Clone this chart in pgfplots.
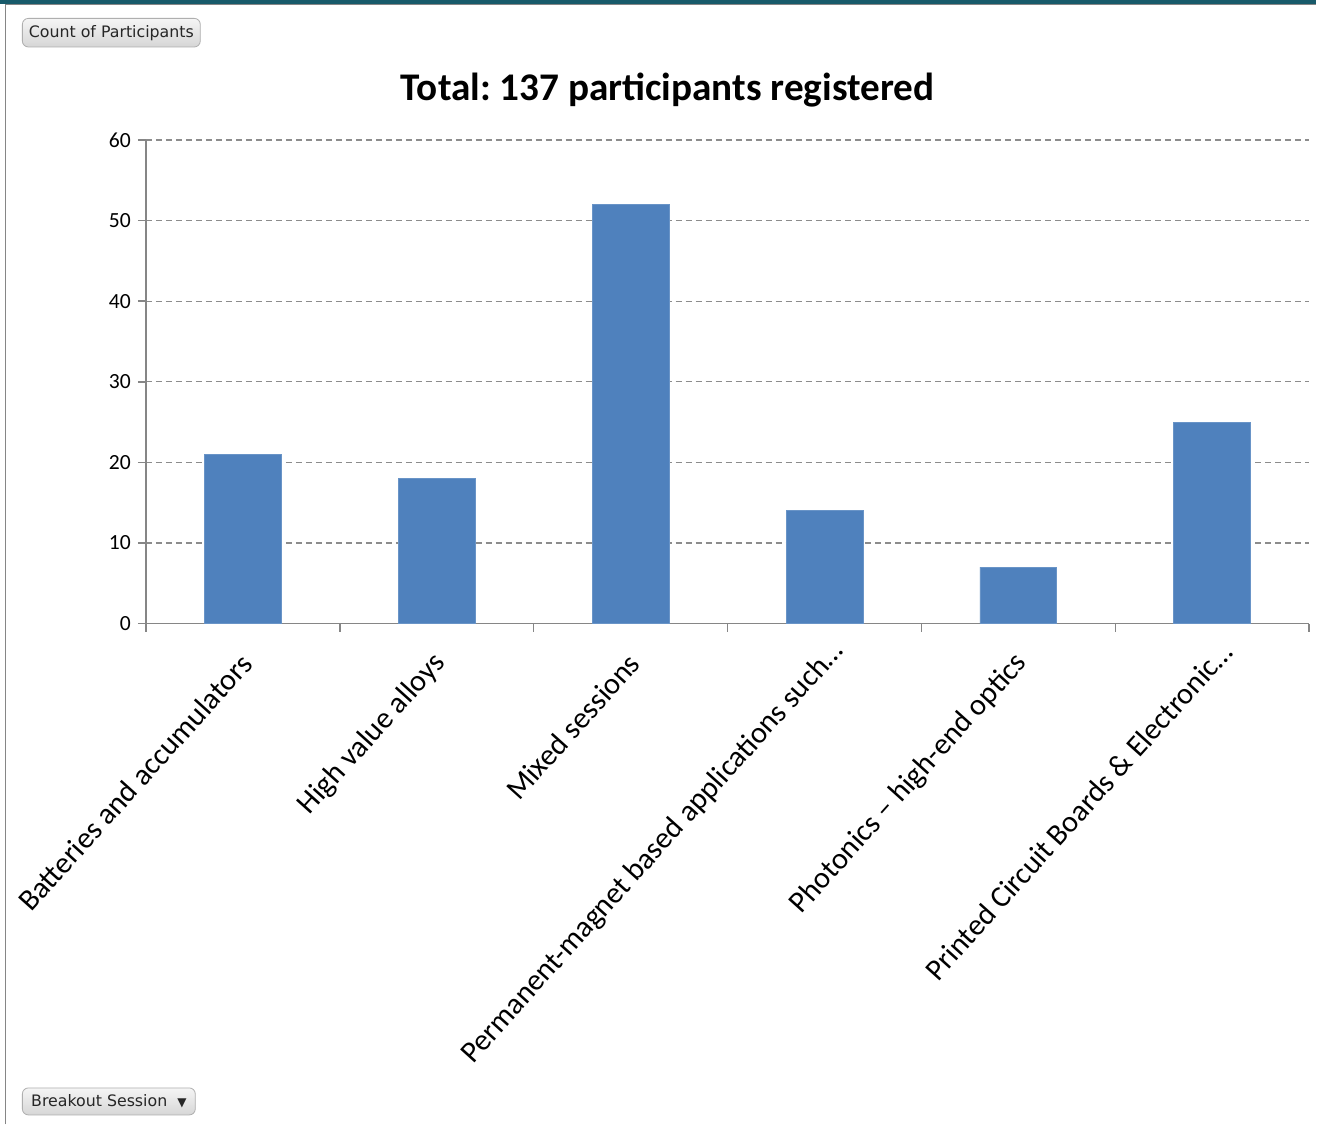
\documentclass[border=0pt]{standalone}
\usepackage{fontspec}
\setmainfont{Carlito}
\newfontfamily\tahoma{DejaVu Sans}
\usepackage{pgfplots}
\pgfplotsset{compat=1.18}
\frenchspacing
\definecolor{barblue}{RGB}{79,129,189}
\definecolor{axgray}{RGB}{134,134,134}
\definecolor{gridgray}{RGB}{140,140,140}
\definecolor{topteal}{RGB}{24,90,106}
\definecolor{btnborder}{RGB}{175,175,175}
\begin{document}
\begin{tikzpicture}[x=1pt,y=1pt]
\fill[white] (0,0) rectangle (658.5,562.5);
\fill[topteal] (0,560.5) rectangle (658.5,562.5);
\draw[axgray,line width=0.8pt] (2.8,0) -- (2.8,560.2) -- (658.5,560.2);
% buttons
\node[draw=btnborder, rounded corners=3pt, top color=gray!8, bottom color=gray!32, inner xsep=3pt, anchor=north west, minimum height=14pt, minimum width=89pt, font=\tahoma\fontsize{7.9}{9}\selectfont, text=black!85] at (11,553.5) {Count of Participants};
\node[draw=btnborder, rounded corners=3pt, top color=gray!8, bottom color=gray!32, inner xsep=3pt, anchor=south west, minimum height=13.5pt, minimum width=86.5pt, font=\tahoma\fontsize{7.9}{9}\selectfont, text=black!85, align=left] at (11,4.5) {Breakout Session\hspace{5pt}{\fontsize{6}{6}\selectfont ▼}};
\node[font=\fontsize{19.6}{22}\selectfont\bfseries, anchor=base] at (334,512) {Total: 137 participants registered};
\begin{axis}[
  at={(73pt,250.5pt)}, anchor=south west,
  scale only axis, width=582pt, height=242pt,
  xmin=-0.5, xmax=5.5, ymin=0, ymax=60,
  axis lines=left, axis line style={-, draw=axgray, line width=0.8pt},
  tick align=outside, tick style={draw=axgray, line width=0.8pt},
  major tick length=4pt,
  ytick={0,10,...,60},
  xtick={-0.5,0.5,...,5.5}, xticklabels={},
  extra x ticks={0,1,2,3,4,5},
  extra x tick labels={Batteries and accumulators, High value alloys, Mixed sessions, Permanent-magnet based applications such…\kern-8pt\relax, Photonics – high-end optics, Printed Circuit Boards \& Electronic…\kern-8pt\relax},
  extra x tick style={major tick length=0pt, tick style={draw=none},
     xticklabel style={rotate=48, anchor=east, font=\fontsize{15.1}{16}\selectfont, yshift=-13pt, xshift=-8.2pt}},
  ymajorgrids, grid style={gridgray, dash pattern=on 3pt off 2pt, line width=0.6pt},
  yticklabel style={font=\fontsize{10.8}{12}\selectfont},
  /pgf/number format/assume math mode=true,
  clip=false,
]
\addplot[ybar, bar width=38.5pt, fill=barblue, draw=barblue!85!white] coordinates {(0,21) (1,18) (2,52) (3,14) (4,7) (5,25)};
\end{axis}
\end{tikzpicture}
\end{document}
